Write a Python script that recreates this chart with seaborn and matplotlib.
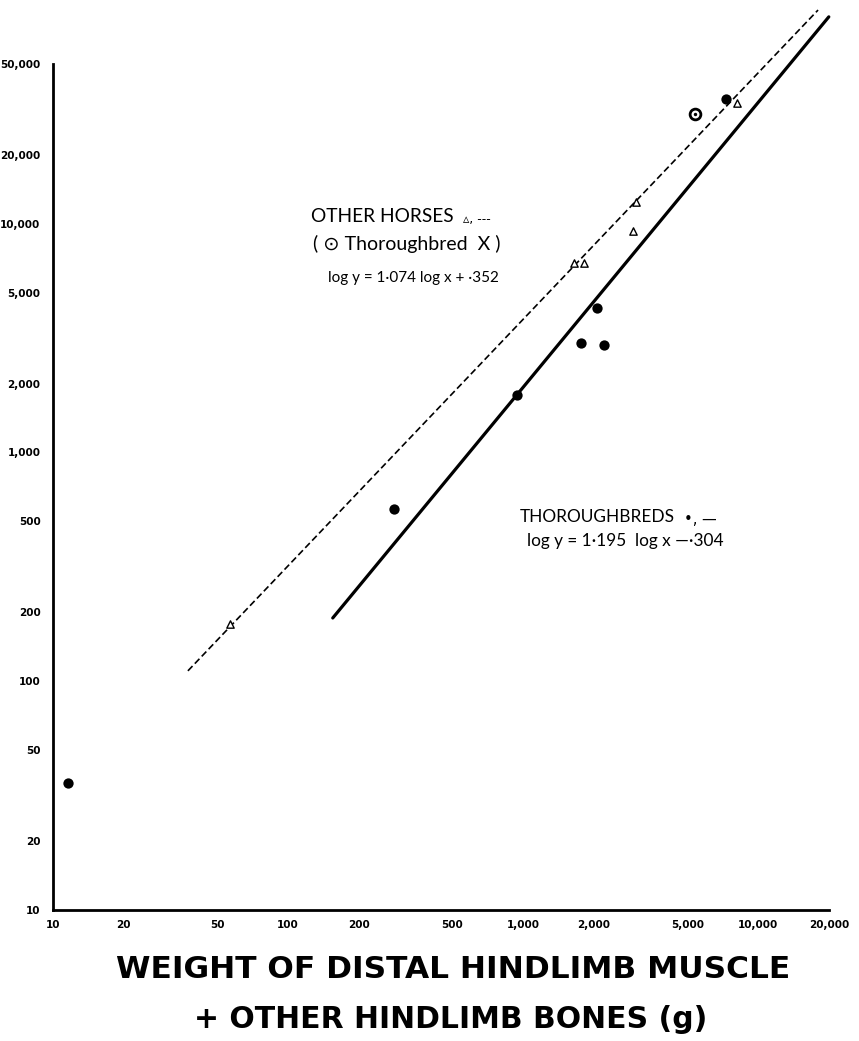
import matplotlib
matplotlib.use("Agg")
import matplotlib.pyplot as plt
from matplotlib.ticker import NullLocator
import seaborn as sns
import pandas as pd

# ---- data ----
# Thoroughbreds (filled circles)
tb_x = [11.6, 282, 942, 1766, 2213, 2065, 7310]
tb_y = [36, 568, 1778, 3007, 2944, 4285, 35000]
# Thoroughbred X (circled dot)
tbx_x = [5400]
tbx_y = [30300]
# Other horses (open triangles)
oh_x = [56.6, 1648, 1820, 2940, 3027, 8110]
oh_y = [178, 6745, 6745, 9316, 12500, 33600]
# Fitted lines, end points as drawn
other_line_x = [37.5, 18000]
other_line_y = [111, 85900]
tb_line_x = [155, 20000]
tb_line_y = [189, 80200]

x_ticks = [10, 20, 50, 100, 200, 500, 1000, 2000, 5000, 10000, 20000]
x_tick_labels = ["10", "20", "50", "100", "200", "500", "1,000", "2,000",
                 "5,000", "10,000", "20,000"]
y_ticks = [10, 20, 50, 100, 200, 500, 1000, 2000, 5000, 10000, 20000, 50000]
y_tick_labels = ["10", "20", "50", "100", "200", "500", "1,000", "2,000",
                 "5,000", "10,000", "20,000", "50,000"]

sns.set_style("white")
plt.rcParams['font.family'] = ['Lato', 'DejaVu Sans']
plt.rcParams['text.color'] = 'black'

W, H = 859, 1041
fig = plt.figure(figsize=(W / 100, H / 100), dpi=100)
ax = fig.add_axes([53 / W, 131 / H, 804 / W, 905 / H])
ax.set_xscale('log')
ax.set_yscale('log')
ax.set_xlim(10, 10 ** 4.421)
ax.set_ylim(10, 10 ** 4.956)

# lines
sns.lineplot(x=other_line_x, y=other_line_y, ax=ax, color='black',
             linewidth=1.2, linestyle=(0, (4, 2)), sort=False)
sns.lineplot(x=tb_line_x, y=tb_line_y, ax=ax, color='black',
             linewidth=2.3, sort=False)

# points
sns.scatterplot(x=tb_x, y=tb_y, ax=ax, color='black', marker='o', s=55,
                edgecolor='black', linewidth=0, zorder=5)
sns.scatterplot(x=oh_x, y=oh_y, ax=ax, marker='^', s=28, facecolor='white',
                edgecolor='black', linewidth=1.0, zorder=5)
sns.scatterplot(x=tbx_x, y=tbx_y, ax=ax, marker='o', s=60, facecolor='white',
                edgecolor='black', linewidth=2.0, zorder=5)
sns.scatterplot(x=tbx_x, y=tbx_y, ax=ax, marker='o', s=6, color='black',
                linewidth=0, zorder=6)

# axes styling
for s in ['top', 'right']:
    ax.spines[s].set_visible(False)
for s in ['left', 'bottom']:
    ax.spines[s].set_linewidth(2.0)
    ax.spines[s].set_color('black')
ax.spines['left'].set_bounds(10, 50000)
ax.spines['bottom'].set_bounds(10, 20000)

ax.set_xticks(x_ticks)
ax.set_xticklabels(x_tick_labels)
ax.set_yticks(y_ticks)
ax.set_yticklabels(y_tick_labels)
ax.xaxis.set_minor_locator(NullLocator())
ax.yaxis.set_minor_locator(NullLocator())
ax.tick_params(axis='both', direction='in', length=6, width=1.3,
               colors='black', labelsize=7.5)
ax.tick_params(axis='x', pad=7)
ax.tick_params(axis='y', pad=9)
for lbl in ax.get_xticklabels() + ax.get_yticklabels():
    lbl.set_fontweight('bold')
    lbl.set_family(['DejaVu Sans'])
    lbl.set_fontsize(7.5)

def ftext(px, py, s, **kw):
    fig.text(px / W, 1 - py / H, s, color='black', **kw)

fam = ['Lato', 'DejaVu Sans']
ftext(311, 216, "OTHER HORSES", fontsize=13.8, va='center', ha='left', family=fam)
ftext(463, 220, "\u25B5, ---", fontsize=9, va='center', ha='left', family=['DejaVu Sans'])
ftext(313, 244, "( \u2299 Thoroughbred  X )", fontsize=14, va='center', ha='left', family=fam)
ftext(328, 278, "log y = 1\u00b7074 log x + \u00b7352", fontsize=11, va='center', ha='left', family=fam)
ftext(520, 517, "THOROUGHBREDS", fontsize=12.4, va='center', ha='left', family=fam)
ftext(684, 519, "\u2022, \u2014", fontsize=10.5, va='center', ha='left', family=['DejaVu Sans'])
ftext(527, 541, "log y = 1\u00b7195  log x \u2014\u00b7304", fontsize=12.4, va='center', ha='left', family=fam)

ftext(453, 969, "WEIGHT OF DISTAL HINDLIMB MUSCLE", fontsize=22.5, va='center',
      ha='center', family=['DejaVu Sans'], fontweight='bold')
ftext(451, 1020, "+ OTHER HINDLIMB BONES (g)", fontsize=21.5, va='center',
      ha='center', family=['DejaVu Sans'], fontweight='bold')

fig.savefig("out.png", dpi=100, facecolor='white')
